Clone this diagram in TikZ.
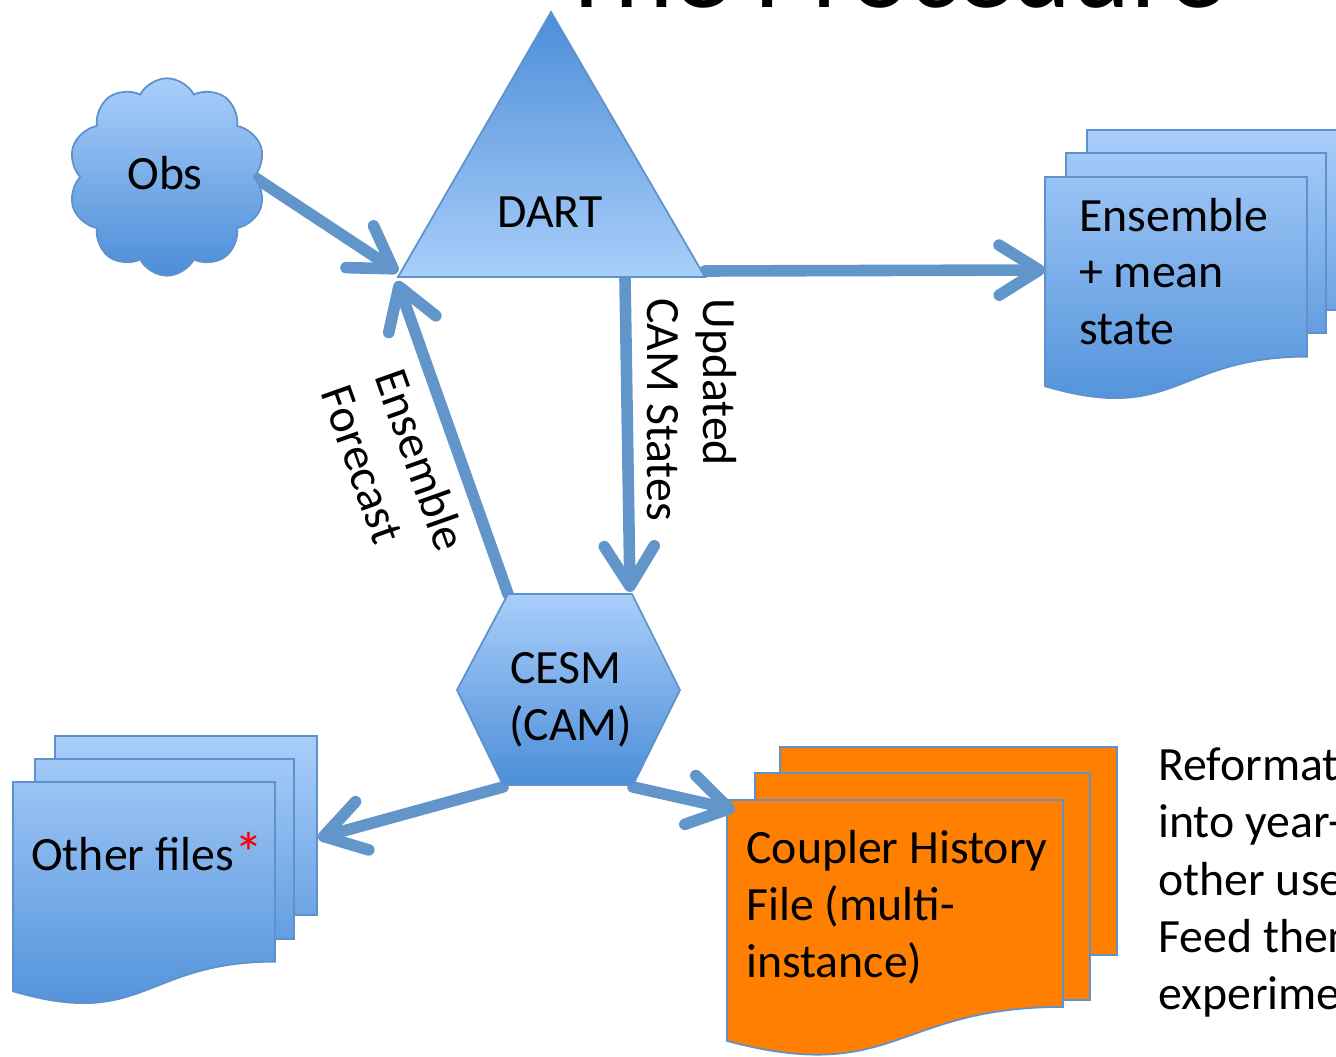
\documentclass[tikz,border=0pt]{standalone}
\usepackage{fontspec}
\setmainfont{Carlito}
\usetikzlibrary{shapes.symbols,arrows.meta}
\definecolor{lb}{HTML}{A9CEFA}
\definecolor{db}{HTML}{4C8ED8}
\definecolor{bd}{HTML}{5F91CB}
\definecolor{arr}{HTML}{6296CB}
\definecolor{org}{HTML}{FF7F00}
\tikzset{
 shpA/.style={draw=bd, line width=1pt, top color=lb, bottom color=db!65!lb},
 shpB/.style={draw=bd, line width=1pt, top color=db!8!lb, bottom color=db!75!lb},
 shpC/.style={draw=bd, line width=1pt, top color=db!17!lb, bottom color=db},
 shp/.style={draw=bd, line width=1pt, top color=lb, bottom color=db},
 tri/.style={draw=bd, line width=1pt, top color=db, bottom color=lb},
 orgdoc/.style={draw=bd, line width=1pt, fill=org},
 cloudshape/.style={cloud, cloud puffs=10, cloud puff arc=125, aspect=1, minimum width=3.95cm, minimum height=3.95cm, inner sep=0pt},
 conn/.style={draw=arr, line width=6.6pt, line cap=round, -{Straight Barb[length=0.8cm,width=1.0cm,round]}},
 lbl/.style={font=\fontsize{27.2}{32}\selectfont, inner sep=0pt},
}
\newcommand\mydoc[5]{%
 \path[#1] (#2,#3) -- (#4,#3) -- (#4,{#3+0.802*#5})
   .. controls ({(#2+#4)/2},{#3+0.802*#5}) and ({(#2+#4)/2},{#3+1.107*#5}) ..
   (#2,{#3+0.934*#5}) -- cycle;}
\begin{document}
\begin{tikzpicture}[x=0.02cm,y=-0.02cm]
\useasboundingbox (0,0) rectangle (1336,1057);
\clip (0,0) rectangle (1336,1057);
% title (cut off at the top)
\node[font=\fontsize{64}{70}\selectfont, anchor=base, inner sep=0pt] (title) at (892,8) {The Procedure};

% Ensemble + mean state documents
\path[shpA] (1087,130) rectangle (1380,310);
\path[shpB] (1066,153) rectangle (1326,333);
\mydoc{shpC}{1045}{177}{1307}{224}
% Coupler history documents
\path[orgdoc] (780,747) rectangle (1117,955);
\path[orgdoc] (755,773) rectangle (1090,1000);
\mydoc{orgdoc}{727}{800}{1063}{258}
% Other files documents
\path[shpA] (55,736) rectangle (317,915);
\path[shpB] (35,759) rectangle (294,939);
\mydoc{shpC}{13}{782}{275}{224}

% anchor points
\coordinate (dartL) at (398,277);
\coordinate (dartR) at (705,277);
\coordinate (dartTop) at (551,12);
\coordinate (dartIn1) at (398,272);
\coordinate (dartIn2) at (397,281);
\coordinate (dartOut1) at (625,279);
\coordinate (dartOut2) at (705,271);
\coordinate (cesmTL) at (508,594);
\coordinate (cesmIn) at (630,592);
\coordinate (cesmBL) at (503,787);
\coordinate (cesmBR) at (633,787);
\coordinate (ensIn) at (1045,270);
\coordinate (othIn) at (318,838);
\coordinate (coupIn) at (735,810);

% Obs cloud outline (invisible, for anchors)
\node[cloudshape] (obs) at (167,177) {};

% connectors (beneath the shapes)
\draw[conn] (obs.east) -- (dartIn1);
\draw[conn] (cesmTL) -- (dartIn2);
\draw[conn] (dartOut1) -- (cesmIn);
\draw[conn] (dartOut2) -- (ensIn);
\draw[conn] (cesmBL) -- (othIn);
\draw[conn] (cesmBR) -- (coupIn);

% shapes on top
\node[cloudshape, shp] (obscloud) at (167,177) {};
\node[lbl] (obstxt) at (165,173) {Obs};
\path[tri] (dartTop) -- (dartR) -- (dartL) -- cycle;
\node[lbl] (dart) at (550,212) {DART};
\path[shp] (508,594) -- (632,594) -- (680,690) -- (633,785) -- (503,785) -- (457,690) -- cycle;
\node[lbl, anchor=base west] (cesm1) at (510,683) {CESM};
\node[lbl, anchor=base west] (cesm2) at (509,740) {(CAM)};

% document texts
\node[lbl, anchor=base west] (ens1) at (1079,232) {Ensemble};
\node[lbl, anchor=base west] (ens2) at (1079,288) {+ mean};
\node[lbl, anchor=base west] (ens3) at (1079,345) {state};
\node[lbl, anchor=base west] (oth) at (31,870) {Other files\textcolor{red}{\fontsize{33}{32}\selectfont\raisebox{-2pt}{*}}};
\node[lbl, anchor=base west] (coup1) at (746,863) {Coupler History};
\node[lbl, anchor=base west] (coup2) at (746,920) {File (multi-};
\node[lbl, anchor=base west] (coup3) at (746,977) {instance)};

% connector labels
\node[lbl, anchor=base west, rotate=-90] (upd1) at (703,298) {Updated};
\node[lbl, anchor=base west, rotate=-90] (upd2) at (647,298) {CAM States};
\node[lbl, anchor=base west, rotate=-70.5] (ef1) at (374,376) {Ensemble};
\node[lbl, anchor=base west, rotate=-70.5] (ef2) at (320,392) {Forecast};

% side text (cut off at the right)
\node[lbl, anchor=base west] (r1) at (1158,780) {Reformat};
\node[lbl, anchor=base west] (r2) at (1158,837) {into year-};
\node[lbl, anchor=base west] (r3) at (1158,895) {other use};
\node[lbl, anchor=base west] (r4) at (1158,952) {Feed them};
\node[lbl, anchor=base west] (r5) at (1158,1009) {experime};
\end{tikzpicture}
\end{document}
